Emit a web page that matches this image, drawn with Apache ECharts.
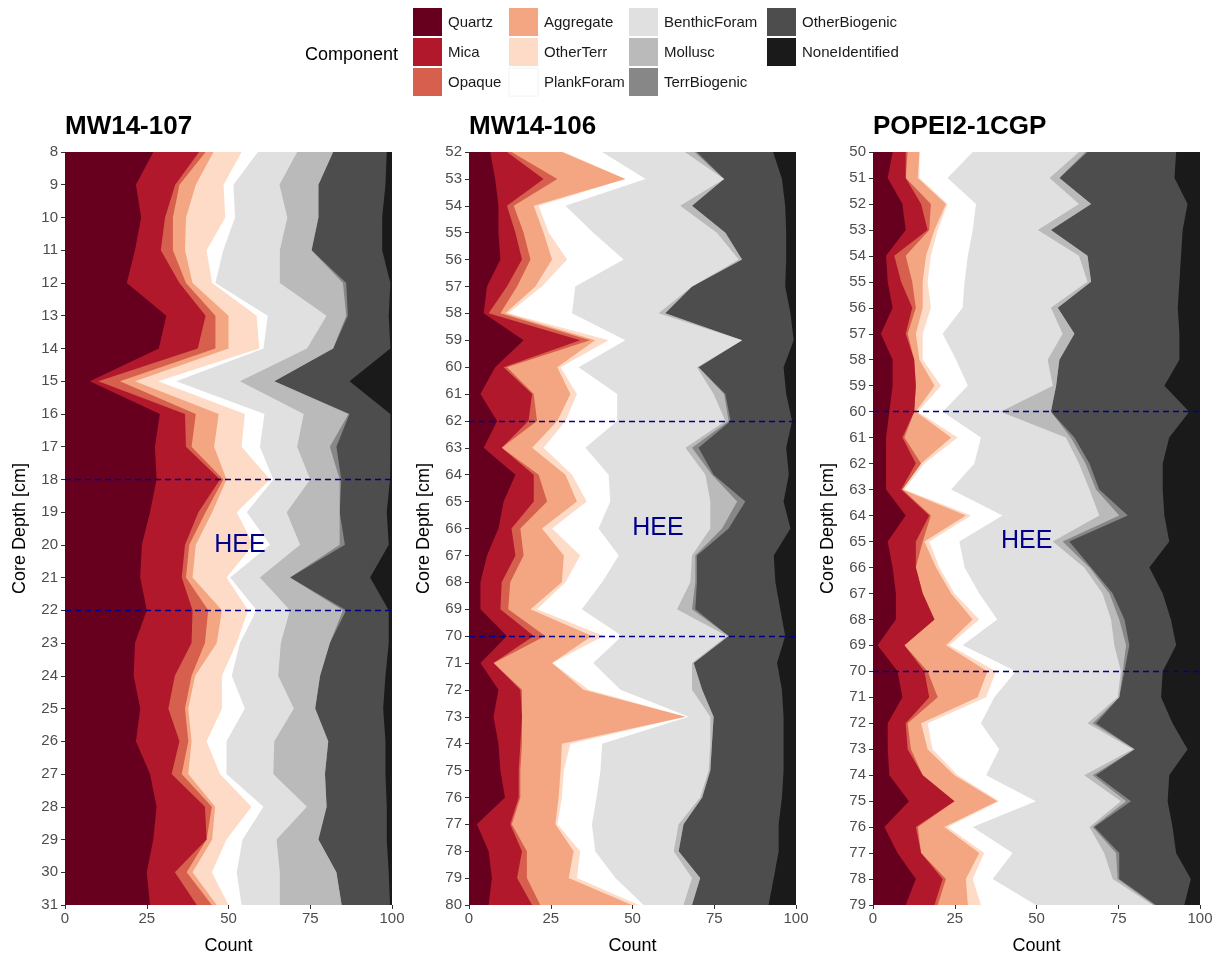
<!DOCTYPE html>
<html><head><meta charset="utf-8">
<script src="https://cdn.jsdelivr.net/npm/echarts@6/dist/echarts.min.js"></script>
<style>html,body{margin:0;padding:0;background:#fff}#c{width:1219px;height:960px}</style>
</head><body><div id="c"></div><script>
// ---------- DATA ----------
// Components (stack order, left -> right) and colours
const components = ['Quartz','Mica','Opaque','Aggregate','OtherTerr','PlankForam','BenthicForam','Mollusc','TerrBiogenic','OtherBiogenic','NoneIdentified'];
const compColors = ['#67001f','#b2182b','#d6604d','#f4a582','#fddbc7','#ffffff','#e0e0e0','#bababa','#878787','#4d4d4d','#1a1a1a'];
const xTicks = [0, 25, 50, 75, 100];

// Panel 1: MW14-107  (depth 8..31 cm); values = cumulative count at right edge of each component
const p1Depths = ['8','9','10','11','12','13','14','15','16','17','18','19','20','21','22','23','24','25','26','27','28','29','30','31'];
const p1Quartz    = [27,21.7,23.3,21.4,18.9,31,28.7,7.6,29,27.5,28,26,23.5,23,25,21.4,21,23,21.7,26,28,27,25,26];
const p1Mica      = [41,33.7,30.6,29.3,35,43,40.6,10.2,36.7,37,47.4,40.8,36.7,35.7,39,38.7,33.6,31.6,35,32.6,42.8,43.3,33.6,40.3];
const p1Opaque    = [43,35,33,33,37,46,46,16.8,40,38.7,48.4,43,38,37,43.8,42.8,38.7,36.7,37.7,35.7,44.9,43.3,37.2,44.9];
const p1Aggregate = [45.4,40,37,36.7,39,50,50,21.4,47,45.6,49.4,45,40,39,48,46.4,39.8,37.7,38.7,37.7,45.9,45,39,46.4];
const p1OtherTerr = [54,48.5,49,43.3,45,58.6,59.4,28.5,55,54,62.7,52.5,57.6,49.4,56,52.5,48,48,43.3,47.4,57,49.4,44.9,50];
const p1Plank     = [59,51.5,52,48.4,46,62,60.7,34,61,59.6,63.7,55.6,62.7,50.5,58.6,53.5,51,55,49.4,49.4,60.7,54.3,52.5,54];
const p1Benthic   = [71,65.6,68,65.7,65.7,80,74,53.5,73,71,75,67.8,71.9,59.6,68.8,66,65.2,70,64,63.7,74,64.7,65.7,65.7];
const p1Mollusc   = [82,77.5,77.5,75.4,85,86,82,64,86.7,81,84,84,84,68.8,85,81,78,76.5,80.5,79.5,80,77.5,83,84.6];
const p1TerrBio   = [82,77.5,77.5,75.4,86,86.5,82,64,87,83,84.5,84,85.6,68.8,86,81,78,76.5,80.5,79.5,80,77.5,83,84.6];
const p1OtherBio  = [98.4,98,97,97,99.5,99,99.5,87,99.5,99.5,99.4,98.4,99,93.3,99,99,98,97.3,98,98,98.4,98.4,99,99.4];
const p1None      = [100,100,100,100,100,100,100,100,100,100,100,100,100,100,100,100,100,100,100,100,100,100,100,100];

// Panel 2: MW14-106 (depth 52..80 cm)
const p2Depths = ['52','53','54','55','56','57','58','59','60','61','62','63','64','65','66','67','68','69','70','71','72','73','74','75','76','77','78','79','80'];
const p2Quartz    = [6.5,8,9,9,9.6,5.5,4.5,16.7,8,3.5,8.6,4.5,14.2,10.6,9,5.5,3.5,3.5,11.6,3.5,9,7.5,9,9.6,11,2.4,6,7,6];
const p2Mica      = [11.6,22.8,11.6,14.2,16.2,11.6,6,34,10.6,19.3,18.2,10,19.8,19.8,13,14.2,10,9.6,19.8,7.5,15.7,16.2,15.7,15.2,15.2,12.6,16.2,14.7,19.3];
const p2Opaque    = [13,27,13.7,16.7,18.8,14.7,9.6,37,11.6,19.8,20.8,10,21.3,23.9,15.7,16.7,12.6,12,23.3,7.5,16.2,16.2,16.2,15.7,15.7,13.1,17.7,17.7,21.8];
const p2Aggregate = [28.4,47.8,19.8,22.8,25.4,20.3,11.1,38.6,27,31,27,19.3,29.5,33,22.3,29,28.4,18.8,37.6,25.4,35,66.2,28.4,28,27.4,26.4,32,30.5,49.8];
const p2OtherTerr = [29,47.8,21.3,24.4,30,22.3,12,42.7,28,33,29.5,22.8,31.5,36,25.4,34,29.5,20.8,41.2,25.4,36.6,66.2,31,29,28.4,27,34,33,51.9];
const p2Plank     = [40.7,54,29.5,38,47.3,32.5,31.5,47.8,33.5,45.3,45.3,35.6,42.7,43.2,39.6,45.8,40.7,34.5,46.8,38,46.3,67.2,40.7,40.2,39,37.6,38.6,44.8,53.4];
const p2Benthic   = [66,78,64.6,75.8,82.5,68.2,58,83.5,69.7,74.8,78.4,66.2,72.3,73.8,73.8,68.2,67.7,63.6,78.9,68.2,68.2,73.8,73.8,73.3,70.7,64.1,62.6,68.2,65.6];
const p2Mollusc   = [69,78,68.2,78.4,83.5,68.2,60,83.5,70.2,78,79.4,68.2,74.3,82,77.4,69.2,69.2,68.2,79.4,68.7,71.3,74.8,74.3,73.8,71.3,65.6,64.1,70.7,68.2];
const p2TerrBio   = [69.7,78,68.2,78.4,83.5,68.2,60,83.5,70.2,78.4,80,70.2,74.8,84.5,79.4,69.7,69.7,69.2,79.4,68.7,71.3,74.8,74.3,73.8,71.3,65.6,64.1,70.7,68.2];
const p2OtherBio  = [93,95.7,96.7,97,97,96.7,98.3,99.3,96.2,97,98.8,97,97.8,96.2,98.3,93.2,93.7,95.2,96.7,94.2,95.7,96.2,96.2,96.2,95.7,94.7,94.7,93.2,91.6];
const p2None      = [100,100,100,100,100,100,100,100,100,100,100,100,100,100,100,100,100,100,100,100,100,100,100,100,100,100,100,100,100];

// Panel 3: POPEI2-1CGP (depth 50..79 cm)
const p3Depths = ['50','51','52','53','54','55','56','57','58','59','60','61','62','63','64','65','66','67','68','69','70','71','72','73','74','75','76','77','78','79'];
const p3Quartz    = [6,4.5,9,10,4,4.5,6,2.4,6,6,5,4,4,4,10,4.5,6,7,7,1.4,7.5,9,4.5,4.5,5,11,3.5,7.5,13.1,10];
const p3Mica      = [10,10,14.7,16.7,6.5,8.6,12,10,12.6,13.1,12.6,9,13.1,8.6,17.2,13.1,13.1,15.2,18.8,9.6,15.7,17.2,10,10.6,15.2,24.9,13.1,14.7,21.3,18.8];
const p3Opaque    = [10.6,10,17.7,17.2,10,12,13.1,10.6,12.6,13.1,12.6,9.6,14.7,9,17.7,15.2,13.1,15.2,18.8,9.6,16.7,19.8,10.6,11.6,15.2,24.9,13.7,14.7,22.3,19.8];
const p3Aggregate = [14.2,13.7,22.3,18.8,16.2,15.2,15.2,13.1,14.2,18.8,13.1,23.9,14.7,9,28.4,15.7,19.3,23.9,30.5,22.3,35,32,14.7,16.7,24.9,38,21.8,32.5,28.4,29];
const p3OtherTerr = [14.2,14.2,22.8,19.8,17.7,16.7,17.7,15.2,15.2,20.8,13.7,25.9,15.7,9.6,30,17.2,20.3,24.9,32.5,23.3,37.6,34.6,16.7,18.2,25.9,38.6,22.8,34,30.5,33];
const p3Plank     = [30.5,22.8,31.5,30.5,29,28,27.4,21.3,25.4,29,21.3,33,31,23.9,39.6,26.4,28,32.5,38,27.4,43.7,37.1,33,38.6,34.6,49.8,30.5,42.7,36.6,49.8];
const p3Benthic   = [63,54,63,50.4,63,65.6,54.4,58,53.4,55,39,59,63,66.2,69.2,55,64.6,70.2,72.8,73.8,75.8,74.8,65.6,79.4,64.6,75.8,66.2,70.7,73.3,85.5];
const p3Mollusc   = [65,57,66.7,54.4,65.6,66.7,56.5,61.6,57,56,54.4,60.5,65,68.2,75.3,58,66.2,72.3,75.3,77.4,76.4,75.3,67.2,80,67.2,77.4,67.2,74.3,74.8,86];
const p3TerrBio   = [65.6,57,66.7,54.4,65.6,66.7,56.5,61.6,57,56,54.4,61.6,66.2,69.2,77.9,60,66.7,73.3,76.9,78.4,76.9,75.3,68.2,80,68.2,78.9,67.7,75.3,75.3,86.5];
const p3OtherBio  = [92.7,92.2,96.2,94.7,94.2,93.7,93.2,93.7,93.7,89.1,96.7,90.6,88.6,88.6,89.1,90.6,84.5,88.6,91.1,92.7,88.6,88.1,91.6,96.2,90.6,90.1,91.6,92.7,97.2,95.2];
const p3None      = [100,100,100,100,100,100,100,100,100,100,100,100,100,100,100,100,100,100,100,100,100,100,100,100,100,100,100,100,100,100];

const panelTitles = ['MW14-107', 'MW14-106', 'POPEI2-1CGP'];
const heeMarks = [[53.5, '20'], [57.8, '66'], [47, '65']];
const heeLines = [['18', '22'], ['62', '70'], ['60', '70']];

// ---------- CHART ----------
const panels = [
  {depths: p1Depths, edges: [p1Quartz,p1Mica,p1Opaque,p1Aggregate,p1OtherTerr,p1Plank,p1Benthic,p1Mollusc,p1TerrBio,p1OtherBio,p1None]},
  {depths: p2Depths, edges: [p2Quartz,p2Mica,p2Opaque,p2Aggregate,p2OtherTerr,p2Plank,p2Benthic,p2Mollusc,p2TerrBio,p2OtherBio,p2None]},
  {depths: p3Depths, edges: [p3Quartz,p3Mica,p3Opaque,p3Aggregate,p3OtherTerr,p3Plank,p3Benthic,p3Mollusc,p3TerrBio,p3OtherBio,p3None]}
];
const FONT = 'Liberation Sans, Arial, sans-serif';
const gridLefts = [65, 469, 873];
const PW = 327, PT = 152, PH = 758;

const chart = echarts.init(document.getElementById('c'), null, {renderer: 'canvas'});
const grids = [], xAxes = [], yAxes = [], series = [], graphics = [];

panels.forEach((p, i) => {
  grids.push({left: gridLefts[i], top: PT, width: PW, height: PH, containLabel: false});
  xAxes.push({
    type: 'value', gridIndex: i, min: xTicks[0], max: xTicks[xTicks.length - 1], interval: 25,
    name: 'Count', nameLocation: 'middle', nameGap: 32,
    nameTextStyle: {fontFamily: FONT, fontSize: 18, color: '#000'},
    axisLine: {show: false}, splitLine: {show: false},
    axisTick: {show: true, length: 4, lineStyle: {color: '#333', width: 1}},
    axisLabel: {fontFamily: FONT, fontSize: 15, color: '#4d4d4d', margin: 6}
  });
  yAxes.push({
    type: 'category', gridIndex: i, data: p.depths, inverse: true, boundaryGap: false,
    name: 'Core Depth [cm]', nameLocation: 'middle', nameGap: 36,
    nameTextStyle: {fontFamily: FONT, fontSize: 18, color: '#000'},
    axisLine: {show: false}, splitLine: {show: false},
    axisTick: {show: true, length: 4, alignWithLabel: true, lineStyle: {color: '#333', width: 1}},
    axisLabel: {fontFamily: FONT, fontSize: 15, color: '#4d4d4d', margin: 7, interval: 0}
  });
  // draw from back (NoneIdentified) to front (Quartz); each fills from 0 to its cumulative edge
  for (let c = components.length - 1; c >= 0; c--) {
    const s = {
      type: 'line', name: components[c], xAxisIndex: i, yAxisIndex: i,
      data: p.edges[c], symbol: 'none', showSymbol: false, silent: true,
      lineStyle: {width: 0, color: compColors[c]},
      itemStyle: {color: compColors[c]},
      areaStyle: {color: compColors[c], opacity: 1},
      animation: false, z: 2
    };
    if (c === 0) {
      s.markLine = {
        symbol: ['none', 'none'], silent: true, animation: false,
        label: {show: false},
        lineStyle: {color: '#00008B', type: [6, 4], width: 1.3, opacity: 1},
        data: heeLines[i].map(d => ({yAxis: d}))
      };
    }
    series.push(s);
  }
  graphics.push({
    type: 'text', left: gridLefts[i], top: 114,
    style: {text: panelTitles[i], font: 'bold 26px ' + FONT, fill: '#000'}
  });
});

// Legend (3 rows, column-major)
const legX = [413, 509, 629, 767], legY = [8, 38, 68], BOX = 29;
graphics.push({type: 'text', left: 305, top: 46, style: {text: 'Component', font: '18px ' + FONT, fill: '#000'}});
components.forEach((name, k) => {
  const col = Math.floor(k / 3), row = k % 3;
  graphics.push({type: 'rect', shape: {x: legX[col], y: legY[row], width: BOX, height: BOX - 1},
    style: {fill: compColors[k], stroke: name === 'PlankForam' ? '#f2f2f2' : null}});
  graphics.push({type: 'text', x: legX[col] + BOX + 6, y: legY[row] + BOX / 2,
    style: {text: name, font: '15px ' + FONT, fill: '#1a1a1a', verticalAlign: 'middle'}});
});

chart.setOption({
  animation: false,
  backgroundColor: '#fff',
  grid: grids, xAxis: xAxes, yAxis: yAxes, series: series
});

// HEE annotations placed through each panel's own scales
heeMarks.forEach((m, i) => {
  const pt = chart.convertToPixel({gridIndex: i}, m);
  graphics.push({type: 'text', x: pt[0], y: pt[1], z: 20,
    style: {text: 'HEE', font: '25px ' + FONT, fill: '#00008B', align: 'center', verticalAlign: 'middle'}});
});
chart.setOption({graphic: graphics});
</script></body></html>
